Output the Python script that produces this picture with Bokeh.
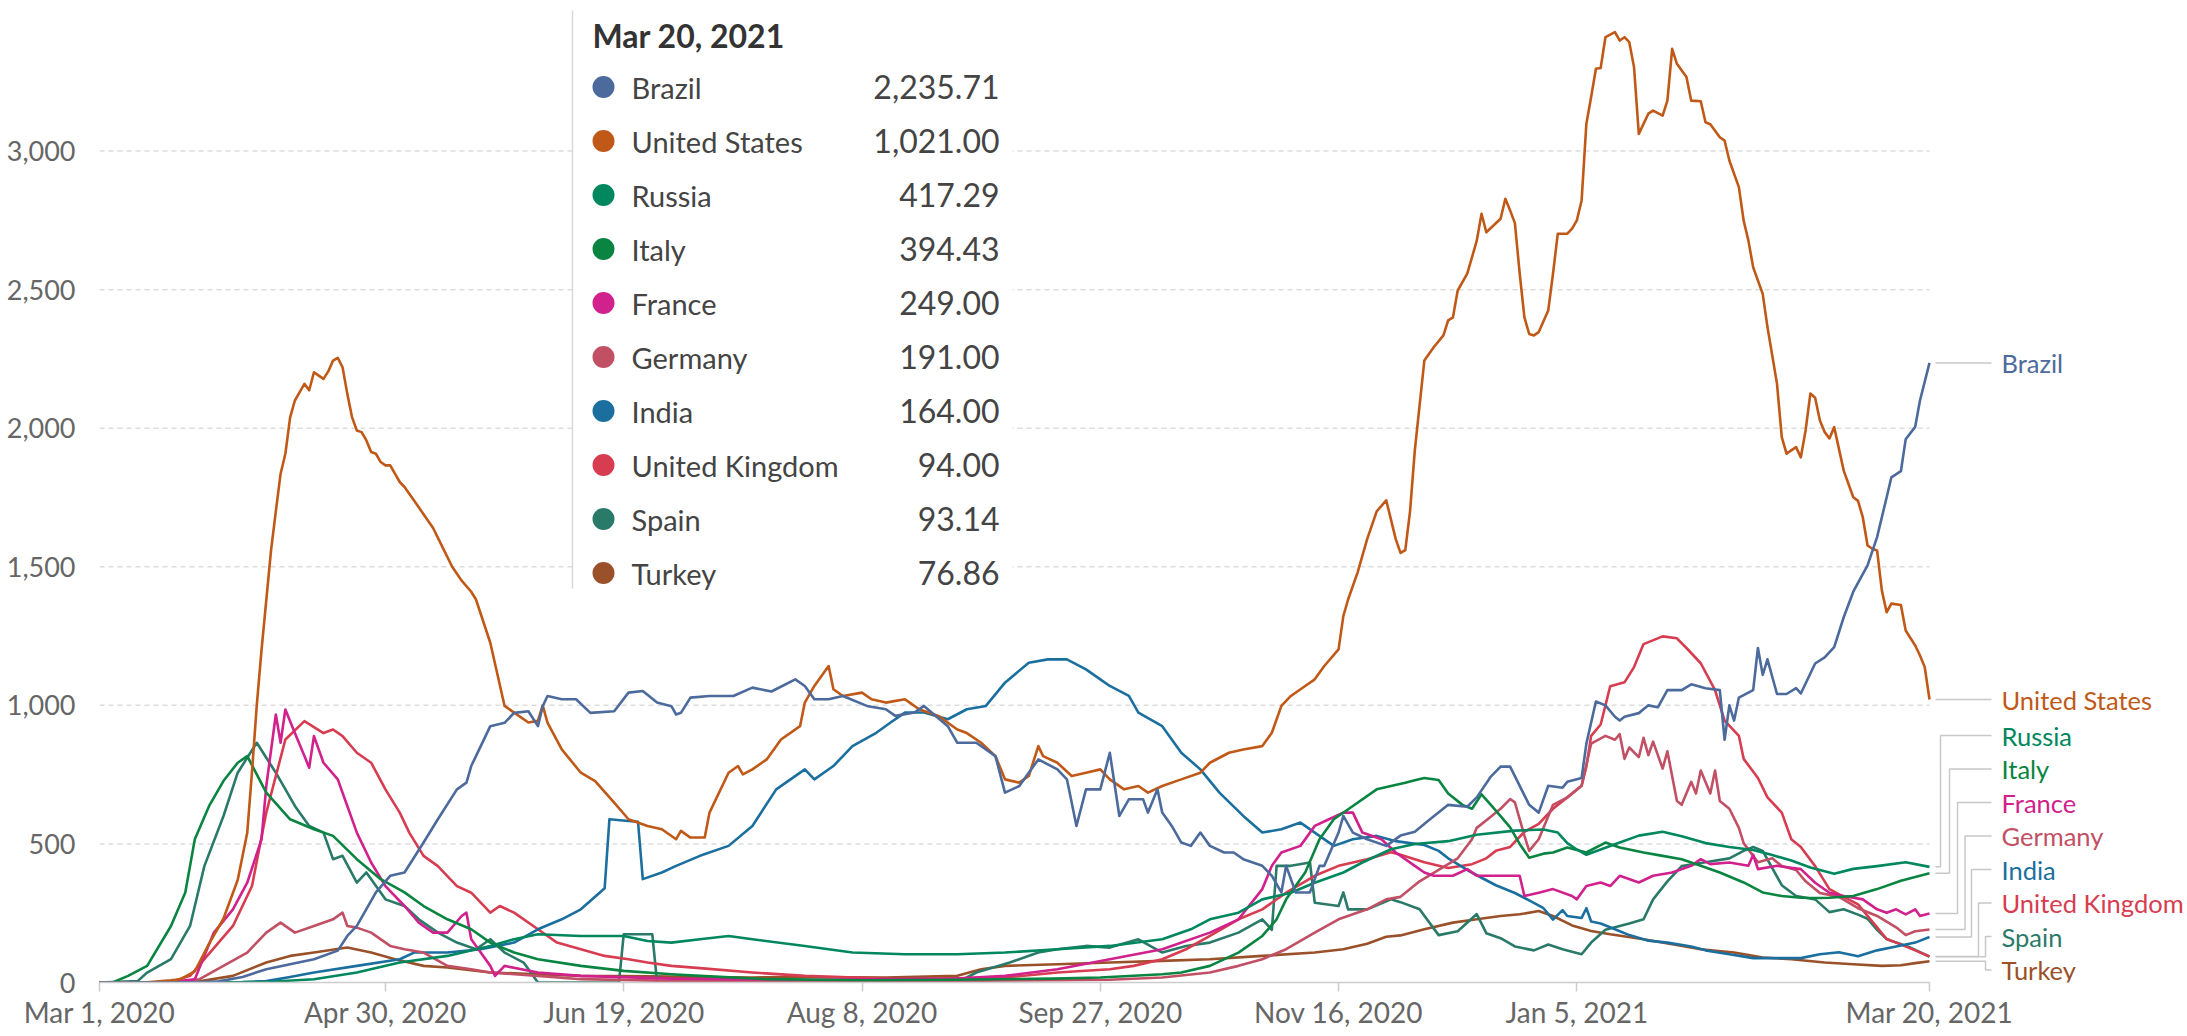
import pandas as pd
from bokeh.plotting import figure
from bokeh.models import Range1d, FixedTicker, NumeralTickFormatter
from bokeh.embed import file_html
from bokeh.resources import INLINE
from bokeh.core.properties import value

# ---------------- data ----------------
START_DATE = "2020-03-01"
X_TICK_DAYS = [0, 60, 110, 160, 210, 260, 310, 384]
X_TICK_LABELS = ["Mar 1, 2020", "Apr 30, 2020", "Jun 19, 2020", "Aug 8, 2020",
                 "Sep 27, 2020", "Nov 16, 2020", "Jan 5, 2021", "Mar 20, 2021"]
Y_TICKS = [0, 500, 1000, 1500, 2000, 2500, 3000]

COUNTRIES = ["Brazil", "United States", "Russia", "Italy", "France",
             "Germany", "India", "United Kingdom", "Spain", "Turkey"]
COLORS = ["#4C6A9C", "#C05917", "#00875E", "#098541", "#D0218C",
          "#C15065", "#1B6F9E", "#D73C50", "#2A7A69", "#9A5129"]

# (days since Mar 1 2020, 7-day average daily deaths)
BRAZIL = [(0,0),(16,0),(20,1),(25,4),(30,20),(35,48),(40,66),(45,84),(50,115),(52,168),(54,204),(58,325),(61,385),(64,397),(68,505),(71,589),(75,697),(77,721),(78,781),(80,853),(82,925),(85,937),(87,973),(90,979),(92,925),(93,997),(94,1034),(97,1022),(100,1022),(103,973),(108,979),(111,1046),(114,1052),(117,1010),(120,997),(121,967),(122,973),(124,1028),(128,1034),(133,1034),(137,1064),(141,1050),(146,1094),(148,1070),(150,1022),(153,1022),(156,1034),(161,998),(165,986),(167,962),(171,974),(173,998),(178,925),(180,865),(184,865),(188,817),(190,685),(193,709),(197,805),(201,769),(203,733),(205,565),(207,697),(210,697),(212,829),(214,601),(216,661),(219,661),(220,613),(222,697),(223,613),(225,565),(227,505),(229,493),(231,541),(233,493),(236,469),(238,469),(240,445),(244,421),(246,385),(248,325),(249,421),(251,325),(254,325),(256,421),(257,421),(260,541),(261,601),(263,541),(266,517),(270,493),(273,530),(276,544),(279,586),(283,641),(287,634),(289,668),(292,744),(294,779),(296,779),(300,641),(302,613),(304,710),(307,703),(308,724),(311,738),(312,862),(314,1014),(316,1000),(318,959),(319,945),(320,959),(323,972),(325,1000),(327,993),(329,1055),(332,1055),(334,1076),(337,1062),(340,1055),(341,876),(342,1000),(343,945),(344,1028),(347,1055),(348,1207),(349,1110),(350,1166),(352,1041),(354,1041),(356,1062),(357,1043),(360,1151),(362,1173),(364,1210),(366,1318),(368,1410),(371,1505),(373,1607),(375,1750),(376,1823),(378,1845),(379,1960),(381,2005),(382,2100),(384,2235.71)]

UNITED_STATES = [(0,0),(10,1),(15,8),(17,12),(20,40),(23,140),(26,230),(29,370),(31,540),(32,760),(33,1000),(34,1200),(35,1380),(36,1560),(37,1700),(38,1836),(39,1908),(40,2039),(41,2100),(42,2130),(43,2160),(44,2137),(45,2202),(46,2190),(47,2178),(48,2205),(49,2244),(50,2254),(51,2220),(52,2124),(53,2039),(54,1992),(55,1986),(56,1956),(57,1914),(58,1908),(59,1878),(60,1866),(61,1866),(62,1836),(63,1806),(64,1788),(66,1739),(68,1690),(70,1640),(72,1570),(74,1500),(76,1450),(78,1410),(79,1382),(82,1226),(85,998),(87,974),(90,938),(92,944),(93,1000),(94,938),(97,841),(101,757),(104,727),(108,649),(111,589),(115,565),(118,553),(121,517),(122,547),(124,523),(127,523),(128,613),(132,757),(134,781),(135,751),(137,769),(140,805),(143,877),(147,925),(148,1010),(150,1070),(153,1142),(154,1058),(156,1034),(160,1046),(162,1022),(165,1010),(169,1022),(170,1010),(172,986),(176,962),(180,913),(182,900),(185,865),(188,817),(190,733),(193,721),(195,745),(197,853),(198,817),(201,793),(204,745),(207,757),(210,769),(212,733),(215,697),(218,709),(220,685),(223,709),(227,733),(231,757),(233,793),(237,829),(240,841),(244,853),(246,901),(248,998),(250,1034),(253,1070),(255,1094),(257,1142),(260,1202),(261,1322),(262,1382),(264,1480),(266,1600),(268,1700),(270,1740),(272,1600),(273,1550),(274,1560),(275,1700),(276,1920),(278,2244),(280,2293),(282,2335),(283,2389),(284,2400),(285,2497),(287,2558),(288,2617),(289,2677),(290,2774),(291,2707),(294,2756),(295,2828),(296,2786),(297,2740),(298,2560),(299,2400),(300,2340),(301,2335),(302,2347),(304,2425),(305,2558),(306,2702),(308,2702),(309,2720),(310,2750),(311,2822),(312,3099),(313,3195),(314,3297),(315,3300),(316,3411),(318,3429),(319,3399),(320,3411),(321,3393),(322,3303),(323,3062),(325,3135),(326,3146),(328,3128),(329,3182),(330,3369),(331,3315),(333,3267),(334,3182),(336,3180),(337,3104),(338,3097),(340,3050),(341,3038),(342,2966),(344,2870),(345,2749),(346,2677),(347,2581),(349,2485),(350,2365),(352,2160),(353,1968),(354,1908),(355,1920),(356,1932),(357,1895),(358,1992),(359,2125),(360,2110),(361,2028),(362,1986),(363,1963),(364,2004),(366,1847),(368,1751),(369,1738),(370,1679),(371,1577),(372,1565),(373,1559),(374,1415),(375,1336),(376,1367),(378,1362),(379,1270),(381,1216),(382,1180),(383,1138),(384,1021.00)]

RUSSIA = [(0,0),(25,0),(35,2),(45,12),(54,36),(63,72),(73,96),(82,132),(87,156),(92,174),(101,168),(110,168),(115,150),(120,144),(126,156),(132,168),(137,156),(148,132),(158,108),(169,102),(180,102),(190,108),(201,120),(212,132),(223,156),(229,192),(233,228),(239,252),(244,300),(250,324),(255,360),(261,397),(265,433),(271,481),(276,500),(283,510),(289,533),(297,548),(303,552),(306,541),(308,503),(310,480),(312,461),(315,480),(319,505),(323,530),(328,544),(332,528),(337,503),(342,489),(347,478),(351,460),(355,440),(359,415),(364,392),(368,410),(373,420),(379,434),(384,417.29)]

ITALY = [(0,0),(3,2),(6,24),(10,60),(15,204),(18,325),(20,517),(23,637),(26,727),(29,793),(31,817),(35,685),(40,589),(45,553),(49,529),(54,445),(59,373),(64,325),(68,276),(73,228),(78,192),(82,144),(87,108),(92,84),(101,60),(110,42),(120,30),(126,24),(140,12),(160,8),(180,10),(200,14),(210,18),(223,30),(227,36),(233,60),(239,108),(244,168),(247,228),(249,300),(253,397),(256,517),(259,589),(263,637),(268,697),(271,709),(274,721),(276,730),(278,738),(281,731),(283,682),(286,641),(288,627),(290,679),(292,640),(294,600),(296,560),(298,500),(300,450),(303,465),(305,469),(308,487),(312,469),(316,505),(319,487),(324,469),(328,457),(332,445),(336,421),(340,397),(345,361),(349,325),(353,312),(357,306),(361,305),(363,306),(368,312),(373,337),(378,367),(384,394.43)]

FRANCE = [(0,0),(15,2),(20,12),(24,180),(28,264),(31,360),(34,517),(35,709),(37,967),(38,865),(39,985),(41,900),(43,817),(44,775),(45,889),(47,793),(50,733),(52,637),(54,541),(57,433),(60,348),(64,276),(67,216),(70,180),(73,180),(76,240),(77,252),(78,156),(80,108),(82,60),(83,24),(85,60),(92,36),(101,24),(120,14),(150,10),(180,14),(190,24),(201,48),(212,84),(223,120),(233,180),(239,228),(244,337),(246,421),(248,469),(252,493),(255,565),(258,589),(261,613),(263,613),(265,541),(269,517),(272,469),(276,421),(278,397),(280,385),(284,385),(287,409),(289,385),(294,385),(298,385),(299,312),(302,324),(305,337),(309,312),(310,300),(312,348),(315,361),(317,348),(319,385),(323,361),(326,385),(330,397),(334,421),(336,445),(338,427),(342,433),(346,421),(347,461),(348,409),(352,421),(357,409),(360,360),(363,324),(366,312),(370,300),(373,264),(375,252),(377,264),(379,246),(381,264),(382,240),(384,249.00)]

GERMANY = [(0,0),(15,0),(21,12),(26,60),(31,108),(35,180),(38,216),(41,180),(45,204),(49,228),(51,252),(52,204),(54,198),(57,180),(61,132),(64,120),(68,108),(73,60),(78,48),(82,36),(92,24),(101,12),(120,6),(160,4),(200,8),(212,10),(223,18),(233,36),(239,60),(244,84),(249,120),(255,180),(260,228),(266,264),(270,300),(273,309),(277,365),(281,406),(285,448),(288,517),(289,558),(292,599),(294,627),(296,662),(297,650),(299,530),(300,475),(302,517),(305,641),(308,668),(311,710),(313,862),(316,890),(318,876),(319,896),(320,807),(321,848),(323,813),(324,883),(325,820),(326,869),(328,772),(329,834),(331,655),(332,641),(334,724),(335,682),(336,765),(338,682),(339,765),(340,655),(342,627),(344,558),(345,503),(348,434),(351,448),(353,420),(356,406),(358,365),(361,323),(365,309),(369,268),(373,240),(377,199),(379,171),(381,185),(384,191.00)]

INDIA = [(0,0),(20,0),(30,2),(35,5),(40,20),(45,36),(54,60),(63,84),(66,108),(73,108),(80,120),(87,144),(92,192),(97,228),(101,264),(105,325),(106,340),(107,589),(111,583),(113,580),(114,373),(118,397),(121,421),(126,457),(132,493),(137,565),(142,697),(148,769),(150,733),(154,781),(158,853),(163,901),(166,938),(169,974),(173,974),(178,950),(182,986),(186,998),(190,1082),(195,1154),(199,1166),(203,1166),(207,1130),(210,1094),(212,1070),(216,1034),(218,974),(223,925),(227,829),(231,769),(235,685),(240,601),(244,541),(248,553),(252,577),(255,541),(259,493),(263,517),(268,529),(272,510),(275,503),(278,496),(281,475),(283,448),(287,406),(290,378),(293,351),(297,323),(300,296),(303,268),(305,227),(307,261),(308,240),(311,233),(312,268),(313,220),(315,213),(318,192),(321,171),(325,151),(329,144),(334,130),(337,116),(342,102),(347,88),(352,88),(357,88),(361,102),(365,109),(369,95),(373,116),(377,130),(381,144),(384,164.00)]

UNITED_KINGDOM = [(0,0),(15,2),(19,24),(22,84),(28,204),(32,348),(35,613),(39,877),(43,943),(47,900),(49,913),(51,889),(54,829),(57,793),(60,697),(63,613),(65,541),(68,457),(71,420),(75,348),(78,324),(80,288),(82,252),(84,276),(87,252),(92,192),(96,144),(101,120),(106,96),(111,84),(115,72),(120,60),(126,52),(137,36),(148,24),(169,12),(190,18),(201,36),(212,48),(217,60),(223,84),(228,120),(233,168),(239,228),(244,264),(249,324),(255,385),(260,421),(266,445),(271,470),(273,461),(278,434),(283,413),(288,427),(291,448),(293,475),(296,489),(299,544),(302,572),(305,627),(308,668),(311,710),(312,779),(313,890),(315,931),(317,1069),(320,1083),(322,1138),(324,1221),(328,1249),(331,1242),(333,1207),(336,1152),(339,1055),(341,945),(344,890),(345,807),(348,738),(350,668),(353,613),(355,517),(357,489),(360,420),(363,337),(366,309),(369,282),(373,199),(375,157),(377,144),(381,116),(384,94.00)]

SPAIN = [(0,0),(8,5),(10,36),(15,84),(19,204),(22,420),(26,600),(29,757),(33,865),(37,757),(41,637),(44,565),(47,541),(49,445),(51,457),(54,360),(56,397),(60,300),(62,288),(64,276),(67,228),(71,180),(75,144),(79,120),(82,156),(85,108),(89,72),(92,0),(109,0),(110,174),(116,174),(117,0),(180,0),(184,36),(191,72),(197,108),(201,120),(207,132),(212,126),(218,156),(223,108),(228,132),(233,144),(239,180),(244,228),(246,190),(247,421),(250,421),(254,433),(255,288),(260,276),(261,325),(262,264),(266,264),(271,300),(273,290),(277,264),(281,171),(285,185),(289,247),(291,178),(294,160),(297,130),(301,116),(304,137),(307,120),(311,102),(313,144),(316,190),(319,204),(321,213),(324,228),(326,300),(329,365),(332,420),(337,434),(342,448),(345,475),(347,489),(349,475),(353,351),(356,312),(360,300),(363,254),(366,264),(369,245),(371,230),(373,190),(375,157),(377,144),(380,126),(384,93.14)]

TURKEY = [(0,0),(10,0),(20,2),(28,24),(35,72),(40,96),(45,108),(52,126),(57,108),(62,84),(68,60),(73,54),(82,36),(92,30),(101,24),(116,22),(126,20),(137,18),(148,20),(165,18),(180,24),(185,48),(190,60),(201,66),(212,72),(223,78),(233,84),(244,96),(255,108),(261,120),(266,140),(270,165),(273,170),(278,192),(284,216),(289,228),(294,240),(298,246),(302,258),(305,240),(309,206),(313,186),(317,174),(324,156),(330,138),(336,120),(343,108),(349,90),(355,84),(362,72),(368,66),(374,60),(378,62),(381,70),(384,76.86)]

SERIES = [BRAZIL, UNITED_STATES, RUSSIA, ITALY, FRANCE, GERMANY, INDIA,
          UNITED_KINGDOM, SPAIN, TURKEY]

# ---------------- layout (page pixels; Bokeh's page has no body margin) ----------------
FIG_W, FIG_H = 2186, 1034
F_LEFT, F_DATA_RIGHT, F_BOTTOM, F_TOP = 99, 1929, 982, 8
DAY_END = X_TICK_DAYS[-1]
PXD = (F_DATA_RIGHT - F_LEFT) / DAY_END          # px per day
PXV = (F_BOTTOM - 150.6) / 3000.0                # px per death

def dx(px):
    return (px - F_LEFT) / PXD

def vy(py):
    return (F_BOTTOM - py) / PXV

frame_w = FIG_W - F_LEFT
frame_h = F_BOTTOM - F_TOP
FONT = value("Lato")

p = figure(width=FIG_W, height=FIG_H,
           x_range=Range1d(0, frame_w / PXD), y_range=Range1d(0, frame_h / PXV),
           output_backend="svg", toolbar_location=None,
           min_border_left=F_LEFT, min_border_right=0,
           min_border_top=F_TOP, min_border_bottom=FIG_H - F_BOTTOM)
p.outline_line_color = None
p.xgrid.visible = False
p.ygrid.visible = False

# axes
p.xaxis.ticker = FixedTicker(ticks=X_TICK_DAYS)
p.xaxis.major_label_overrides = dict(zip(X_TICK_DAYS, X_TICK_LABELS))
p.xaxis.bounds = (0, DAY_END)
p.xaxis.axis_line_color = "#cccccc"
p.xaxis.axis_line_width = 1.5
p.xaxis.major_tick_line_color = "#cccccc"
p.xaxis.major_tick_line_width = 1.5
p.xaxis.major_tick_in = 0
p.xaxis.major_tick_out = 9
p.xaxis.minor_tick_line_color = None
p.xaxis.major_label_standoff = 3
p.xaxis.major_label_text_font = "Lato"
p.xaxis.major_label_text_font_size = "28px"
p.xaxis.major_label_text_color = "#666666"

p.yaxis.ticker = FixedTicker(ticks=Y_TICKS)
p.yaxis.formatter = NumeralTickFormatter(format="0,0")
p.yaxis.axis_line_color = None
p.yaxis.major_tick_line_color = None
p.yaxis.minor_tick_line_color = None
p.yaxis.major_label_standoff = 18
p.yaxis.major_label_text_font = "Lato"
p.yaxis.major_label_text_font_size = "27px"
p.yaxis.major_label_text_color = "#666666"

# dashed gridlines (not at zero)
gy = [t for t in Y_TICKS if t > 0]
p.segment(x0=[0] * len(gy), y0=gy, x1=[DAY_END] * len(gy), y1=gy,
          line_color="#dddddd", line_width=1.5, line_dash="5 4")

# series lines
start = pd.Timestamp(START_DATE)
for name, color, data in reversed(list(zip(COUNTRIES, COLORS, SERIES))):
    days = [d for d, _ in data]
    vals = [v for _, v in data]
    p.line(days, vals, line_color=color, line_width=2.6, line_join="round")

# end labels with connectors
ends = [data[-1][1] for data in SERIES]
x_line_end = DAY_END
conn_start = x_line_end + 6 / PXD
conn_end = x_line_end + 62 / PXD
label_x = x_line_end + 72 / PXD
CROWD_TOP_PX = 735
CROWD_STEP_PX = 33.5
ELBOWS_PX = [11, 20, 28, 35.5, 42, 49, 56, 56]
crowd = 0
for i, (name, color) in enumerate(zip(COUNTRIES, COLORS)):
    e = ends[i]
    if i < 2:
        ly = e
        p.line([conn_start, conn_end], [e, e], line_color="#c8c8c8", line_width=1.5)
    else:
        ly = vy(CROWD_TOP_PX + CROWD_STEP_PX * crowd)
        ex = x_line_end + ELBOWS_PX[crowd] / PXD
        p.line([conn_start, ex, ex, conn_end], [e, e, ly, ly],
               line_color="#c8c8c8", line_width=1.5)
        crowd += 1
    p.text(x=[label_x], y=[ly], text=[name], text_color=color,
           text_font=FONT, text_font_size="25.5px",
           text_baseline="middle", text_align="left")

# tooltip box
BOX_L, BOX_R, BOX_T, BOX_B = 572, 1012, 10, 588
p.quad(left=[dx(BOX_L)], right=[dx(BOX_R)], top=[vy(BOX_T)], bottom=[vy(BOX_B)],
       fill_color="white", fill_alpha=0.95, line_color=None)
p.line([dx(BOX_L), dx(BOX_L)], [vy(BOX_T), vy(BOX_B)], line_color="#d9d9d9", line_width=1.5)

last_date = (start + pd.Timedelta(days=DAY_END)).strftime("%b %-d, %Y")
p.text(x=[dx(592)], y=[vy(35)], text=[last_date], text_color="#333333",
       text_font=FONT, text_font_size="32px", text_font_style="bold",
       text_baseline="middle", text_align="left")

order = sorted(range(len(COUNTRIES)), key=lambda k: -ends[k])
row_y = [vy(86.5 + 54 * r) for r in range(len(order))]
p.scatter(x=[dx(603)] * len(order), y=row_y, size=22,
          fill_color=[COLORS[k] for k in order], line_color=None)
p.text(x=[dx(631)] * len(order), y=row_y, text=[COUNTRIES[k] for k in order],
       text_color="#444444", text_font=FONT, text_font_size="29px",
       text_baseline="middle", text_align="left")
p.text(x=[dx(999)] * len(order), y=row_y, text=[f"{ends[k]:,.2f}" for k in order],
       text_color="#444444", text_font=FONT, text_font_size="32px",
       text_baseline="middle", text_align="right")

open("out.html", "w").write(file_html(p, INLINE))
